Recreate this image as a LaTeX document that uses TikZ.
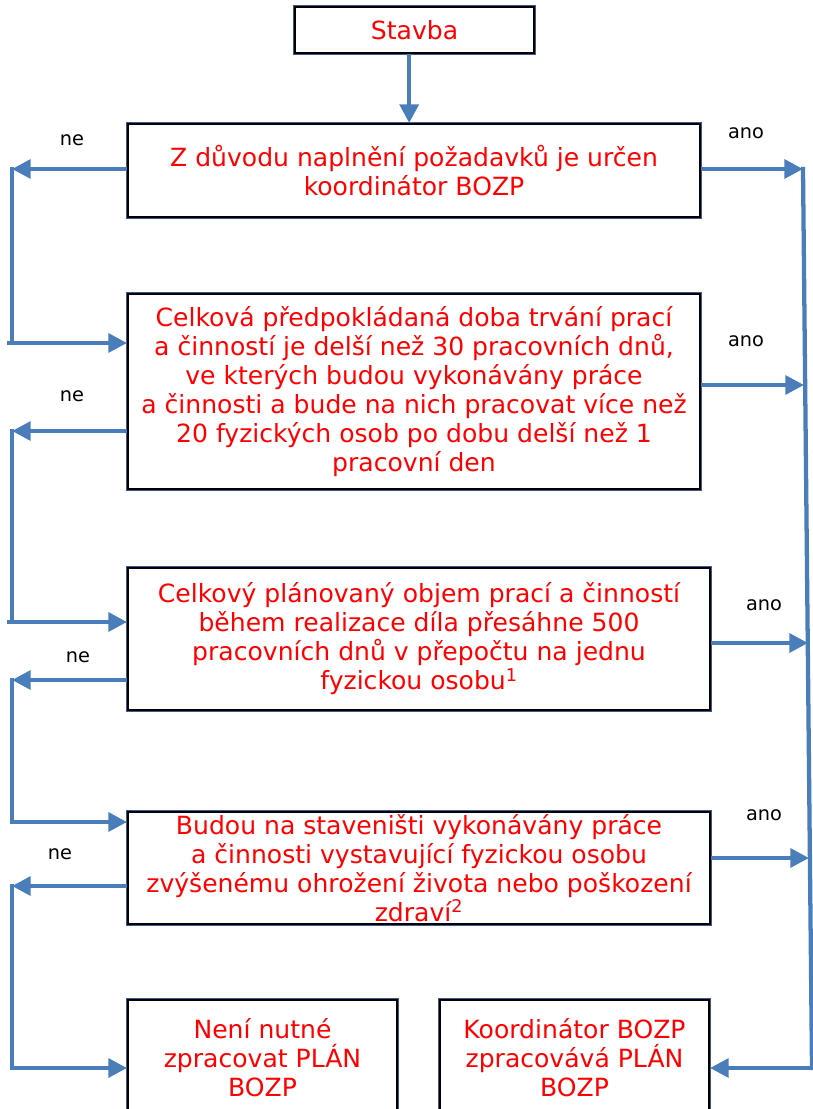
\documentclass[tikz,border=0pt]{standalone}
\usepackage{fontspec}
\setmainfont{DejaVu Sans}
\usetikzlibrary{arrows.meta}
\definecolor{arrowblue}{RGB}{74,126,187}
\definecolor{edgeblue}{RGB}{60,90,140}
\definecolor{txtred}{RGB}{255,0,0}
\begin{document}
\begin{tikzpicture}[x=0.75pt,y=-0.75pt,
  box/.style={draw=black, line width=1.5pt,
    preaction={draw=edgeblue, line width=2.8pt},
    fill=white, align=center, text=txtred, inner sep=0pt,
    font=\fontsize{18.8}{21.75}\selectfont},
  flow/.style={draw=arrowblue, line width=3.2pt},
  arr/.style={flow, -{Triangle[length=14pt,width=14pt]}},
  lbl/.style={font=\fontsize{14.5}{17}\selectfont, text=black}]
\useasboundingbox (0,0) rectangle (813,1109);

% boxes
\node[box, minimum width=179.25pt, minimum height=34.5pt] (start) at (414.5,30) {Stavba};
\node[box, minimum width=429pt, minimum height=69.75pt] (b1) at (414,170.5)
  {Z důvodu naplnění požadavků je určen\\koordinátor BOZP};
\node[box, minimum width=429pt, minimum height=146.25pt] (b2) at (414,391.5)
  {Celková předpokládaná doba trvání prací\\a činností je delší než 30 pracovních dnů,\\ve kterých budou vykonávány práce\\a činnosti a bude na nich pracovat více než\\20 fyzických osob po dobu delší než 1\\pracovní den};
\node[box, minimum width=436.5pt, minimum height=106.5pt] (b3) at (419,639)
  {Celkový plánovaný objem prací a činností\\během realizace díla přesáhne 500\\pracovních dnů v přepočtu na jednu\\fyzickou osobu\textsuperscript{1}};
\node[box, minimum width=436.5pt, minimum height=84pt] (b4) at (419,868)
  {Budou na staveništi vykonávány práce\\a činnosti vystavující fyzickou osobu\\zvýšenému ohrožení života nebo poškození\\zdraví\textsuperscript{2}};
\node[box, minimum width=201.75pt, minimum height=87pt] (b5) at (262.5,1058)
  {Není nutné\\zpracovat PLÁN\\BOZP};
\node[box, minimum width=201.75pt, minimum height=87pt] (b6) at (574.5,1058)
  {Koordinátor BOZP\\zpracovává PLÁN\\BOZP};

% coordinates
\coordinate (l1a) at (12,169);  \coordinate (l1b) at (12,343);  \coordinate (l1s) at (7,343);
\coordinate (l2a) at (12,431);  \coordinate (l2b) at (12,622);  \coordinate (l2s) at (7,622);
\coordinate (l3a) at (12,680);  \coordinate (l3b) at (12,822);
\coordinate (l4a) at (12,886);  \coordinate (l4b) at (12,1068);
\coordinate (r1) at (803,169);  \coordinate (r2) at (804,385);
\coordinate (r3) at (808,643);  \coordinate (r4) at (809,858);
\coordinate (rbot) at (812,1068);

% connectors
\draw[arr] ([xshift=-4pt]start.south) -- ([xshift=-4pt]start.south |- b1.north);

\draw[arr] (b1.west |- l1a) -- (l1a);
\draw[flow, line cap=rect] (l1a) -- (l1b);
\draw[arr] (l1s) -- (b2.west |- l1s);

\draw[arr] (b2.west |- l2a) -- (l2a);
\draw[flow, line cap=rect] (l2a) -- (l2b);
\draw[arr] (l2s) -- (b3.west |- l2s);

\draw[arr] (b3.west |- l3a) -- (l3a);
\draw[flow, line cap=rect] (l3a) -- (l3b);
\draw[arr] (l3b) -- (b4.west |- l3b);

\draw[arr] (b4.west |- l4a) -- (l4a);
\draw[flow, line cap=rect] (l4a) -- (l4b);
\draw[arr] (l4b) -- (b5.west |- l4b);

\draw[arr] (b1.east |- r1) -- (r1);
\draw[arr] (b2.east |- r2) -- (r2);
\draw[arr] (b3.east |- r3) -- (r3);
\draw[arr] (b4.east |- r4) -- (r4);
\draw[flow, line cap=rect] (r1) -- (rbot);
\draw[arr] (rbot) -- (b6.east |- rbot);

% labels
\node[lbl] (ne1) at (72,140) {ne};
\node[lbl] (ne2) at (72,396) {ne};
\node[lbl] (ne3) at (78,657) {ne};
\node[lbl] (ne4) at (60,854) {ne};
\node[lbl] (ano1) at (746,133) {ano};
\node[lbl] (ano2) at (746,341) {ano};
\node[lbl] (ano3) at (764,605) {ano};
\node[lbl] (ano4) at (764,815) {ano};
\end{tikzpicture}
\end{document}
